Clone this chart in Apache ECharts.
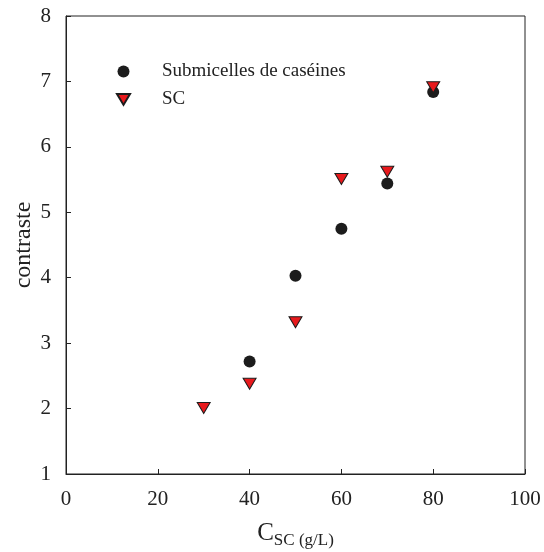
<!DOCTYPE html>
<html>
<head>
<meta charset="utf-8">
<script src="https://cdn.jsdelivr.net/npm/echarts@6/dist/echarts.min.js"></script>
<style>html,body{margin:0;padding:0;background:#fff}#c{width:544px;height:552px}</style>
</head>
<body>
<div id="c"></div>
<script>
var xSub = [40, 50, 60, 70, 80];
var ySub = [2.72, 4.03, 4.75, 5.44, 6.84];
var xSC = [30, 40, 50, 60, 70, 80];
var ySC = [2.01, 2.38, 3.32, 5.51, 5.62, 6.91];
var xTicks = [0, 20, 40, 60, 80, 100];
var yTicks = [1, 2, 3, 4, 5, 6, 7, 8];

var font = 'Liberation Serif, Times New Roman, serif';
var tri = 'path://M0,0 L12,0 L6,10 Z';
function pairs(xs, ys){ return xs.map(function(x,i){ return [x, ys[i]]; }); }

var chart = echarts.init(document.getElementById('c'));
chart.setOption({
  animation: false,
  backgroundColor: '#fff',
  grid: { left: 66, right: 19, top: 16, bottom: 78, containLabel: false, outerBoundsMode: 'none',
    show: true, borderColor: '#222', borderWidth: 1, backgroundColor: 'transparent' },
  legend: {
    orient: 'vertical', left: 111, top: 57, itemGap: 9, itemWidth: 13, itemHeight: 12,
    textStyle: { fontFamily: font, fontSize: 19, color: '#222', padding: [0, 0, 0, 27] },
    data: ['Submicelles de caséines', 'SC']
  },
  xAxis: {
    type: 'value', min: xTicks[0], max: xTicks[xTicks.length-1], interval: 20,
    axisLine: { show: true, lineStyle: { color: '#222', width: 1 } },
    axisTick: { show: true, inside: true, length: 5, lineStyle: { color: '#222' } },
    splitLine: { show: false },
    axisLabel: { fontFamily: font, fontSize: 21, color: '#222', margin: 15 },
    name: '{c|C}{s|SC (g/L)}', nameLocation: 'middle', nameGap: 44, nameMoveOverlap: false,
    nameTextStyle: { rich: { c: { fontFamily: font, fontSize: 25, color: '#222' }, s: { fontFamily: font, fontSize: 17, color: '#222', padding: [14, 0, 0, 0] } } }
  },
  yAxis: {
    type: 'value', min: yTicks[0], max: yTicks[yTicks.length-1], interval: 1,
    axisLine: { show: true, lineStyle: { color: '#222', width: 1 } },
    axisTick: { show: true, inside: true, length: 5, lineStyle: { color: '#222' } },
    splitLine: { show: false },
    axisLabel: { fontFamily: font, fontSize: 21, color: '#222', margin: 15 },
    name: 'contraste', nameLocation: 'middle', nameGap: 30, nameRotate: 90, nameMoveOverlap: false,
    nameTextStyle: { fontFamily: font, fontSize: 24, color: '#222' }
  },
  series: [
    { name: 'Submicelles de caséines', type: 'scatter', symbol: 'circle', symbolSize: 12,
      itemStyle: { color: '#1c1c1c', opacity: 1 }, data: pairs(xSub, ySub), z: 2 },
    { name: 'SC', type: 'scatter', symbol: tri, symbolSize: [13, 11],
      itemStyle: { color: '#e8191c', borderColor: '#1c1c1c', borderWidth: 1, opacity: 1 }, data: pairs(xSC, ySC), z: 3 }
  ]
});
</script>
</body>
</html>
